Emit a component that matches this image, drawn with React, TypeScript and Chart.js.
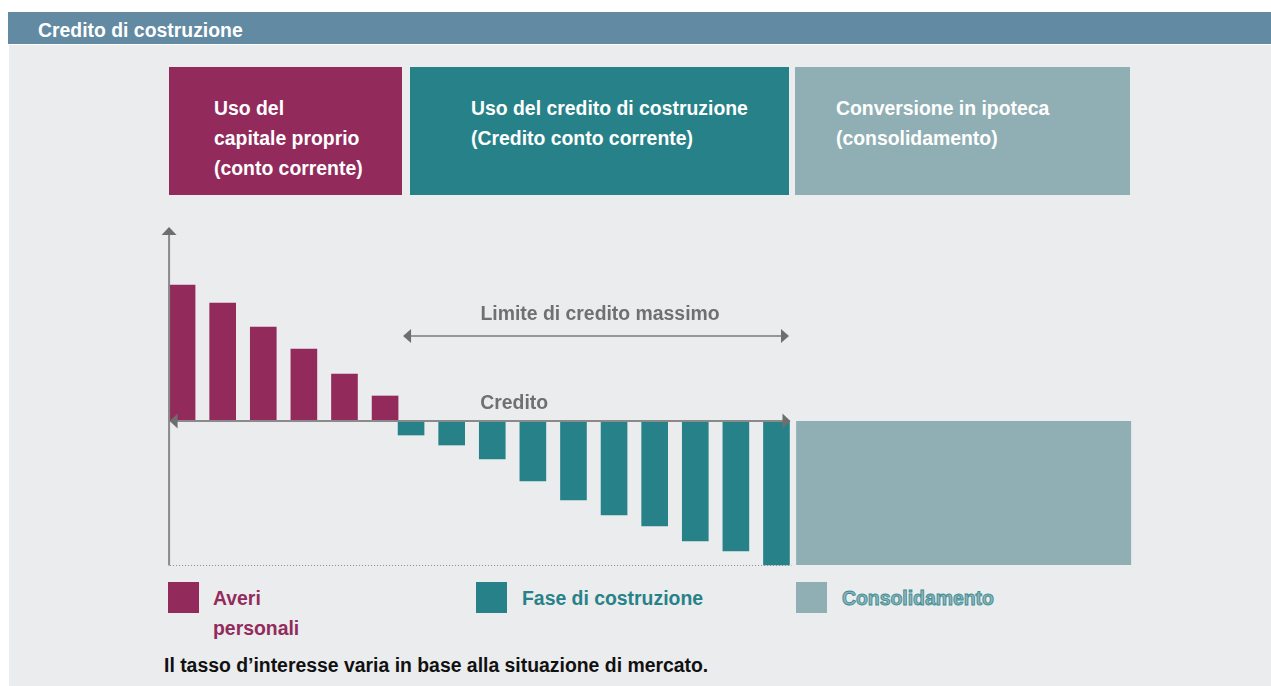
import React, { useEffect, useRef } from 'react';
import { Chart, registerables } from 'chart.js';

Chart.register(...registerables);

// ---------- data ----------
const chartTitle = 'Credito di costruzione';
const phaseTitles = [
  ['Uso del', 'capitale proprio', '(conto corrente)'],
  ['Uso del credito di costruzione', '(Credito conto corrente)'],
  ['Conversione in ipoteca', '(consolidamento)'],
];
const seriesLabels = [['Averi', 'personali'], ['Fase di costruzione'], ['Consolidamento']];
const equityMonths = [0, 1, 2, 3, 4, 5];
const equityValues = [136, 118, 94, 72, 47, 25];
const creditMonths = [5.64, 6.64, 7.64, 8.64, 9.64, 10.64, 11.64, 12.64, 13.64, 14.64];
const creditValues = [-14, -24, -38, -60, -79, -94, -105, -120, -130, -144];
const consolidationMonths = [19.25];
const consolidationValues = [-144];
const limitLabel = 'Limite di credito massimo';
const creditLabel = 'Credito';
const footnote = 'Il tasso d\u2019interesse varia in base alla situazione di mercato.';

// ---------- styles ----------
const MAGENTA = '#922b5c';
const TEAL = '#268288';
const LIGHT = '#8fafb5';
const BAR_BLUE = '#628aa2';
const BG = '#ebecee';
const GRAY_TEXT = '#707070';
const AXIS = '#8a8a8a';
const ARROW = '#6e6e6e';
const FONT = '"Liberation Sans", Arial, Helvetica, sans-serif';
const FS = 19.4;
const BAR_W = 26;

const CANVAS_LEFT = 150;
const CANVAS_TOP = 215;
const CANVAS_W = 1000;
const CANVAS_H = 360;

const schemaPlugin = {
  id: 'schemaAxes',
  afterDatasetsDraw(chart: any) {
    const { ctx, scales } = chart;
    const xs = scales.x;
    const ys = scales.y;
    const y0 = ys.getPixelForValue(0);
    const yBottom = ys.getPixelForValue(consolidationValues[0]);
    const axisX = xs.getPixelForValue(equityMonths[0]) - BAR_W / 2;
    const creditStart = xs.getPixelForValue(creditMonths[0]) - BAR_W / 2;
    const creditEnd = xs.getPixelForValue(creditMonths[creditMonths.length - 1]) + BAR_W / 2;
    const axisTop = chart.chartArea.top + 12;

    ctx.save();
    // dotted baseline
    ctx.strokeStyle = '#8c8c8c';
    ctx.lineWidth = 1;
    ctx.setLineDash([1, 2]);
    ctx.beginPath();
    ctx.moveTo(axisX + 1, yBottom + 0.5);
    ctx.lineTo(creditEnd + 2, yBottom + 0.5);
    ctx.stroke();
    ctx.setLineDash([]);

    // vertical axis
    ctx.strokeStyle = AXIS;
    ctx.lineWidth = 2;
    ctx.beginPath();
    ctx.moveTo(axisX, axisTop + 7);
    ctx.lineTo(axisX, yBottom + 0.5);
    ctx.stroke();
    ctx.fillStyle = ARROW;
    ctx.beginPath();
    ctx.moveTo(axisX, axisTop);
    ctx.lineTo(axisX + 7.5, axisTop + 8);
    ctx.lineTo(axisX - 7.5, axisTop + 8);
    ctx.closePath();
    ctx.fill();

    // zero line with arrows
    ctx.strokeStyle = AXIS;
    ctx.lineWidth = 2;
    ctx.beginPath();
    ctx.moveTo(axisX + 2, y0);
    ctx.lineTo(creditEnd - 4, y0);
    ctx.stroke();
    ctx.fillStyle = ARROW;
    ctx.beginPath();
    ctx.moveTo(axisX + 0.5, y0);
    ctx.lineTo(axisX + 8.5, y0 - 7.5);
    ctx.lineTo(axisX + 8.5, y0 + 7.5);
    ctx.closePath();
    ctx.fill();
    ctx.beginPath();
    ctx.moveTo(creditEnd + 1, y0);
    ctx.lineTo(creditEnd - 7, y0 - 7.5);
    ctx.lineTo(creditEnd - 7, y0 + 7.5);
    ctx.closePath();
    ctx.fill();

    // credit limit double arrow
    const limY = ys.getPixelForValue(85);
    const lx1 = creditStart + 5;
    const lx2 = creditEnd - 0.5;
    ctx.strokeStyle = '#7a7a7a';
    ctx.lineWidth = 1.6;
    ctx.beginPath();
    ctx.moveTo(lx1 + 4, limY);
    ctx.lineTo(lx2 - 4, limY);
    ctx.stroke();
    ctx.fillStyle = ARROW;
    ctx.beginPath();
    ctx.moveTo(lx1, limY);
    ctx.lineTo(lx1 + 8, limY - 7);
    ctx.lineTo(lx1 + 8, limY + 7);
    ctx.closePath();
    ctx.fill();
    ctx.beginPath();
    ctx.moveTo(lx2, limY);
    ctx.lineTo(lx2 - 8, limY - 7);
    ctx.lineTo(lx2 - 8, limY + 7);
    ctx.closePath();
    ctx.fill();

    // labels
    ctx.fillStyle = GRAY_TEXT;
    ctx.font = `bold ${FS}px ${FONT}`;
    ctx.textBaseline = 'alphabetic';
    ctx.textAlign = 'center';
    ctx.fillText(limitLabel, (lx1 + lx2) / 2 + 4, limY - 16);
    ctx.textAlign = 'left';
    ctx.fillText(creditLabel, xs.getPixelForValue(creditMonths[2]) - BAR_W / 2 + 1, y0 - 12);
    ctx.restore();
  },
};

const abs = (left: number, top: number, extra: any = {}) => ({ position: 'absolute', left, top, ...extra });

export default function App() {
  const ref = useRef<HTMLCanvasElement>(null);

  useEffect(() => {
    document.body.style.margin = '0';
    const canvas = ref.current!;
    const chart = new Chart(canvas, {
      type: 'bar',
      data: {
        datasets: [
          {
            label: seriesLabels[0].join(' '),
            data: equityMonths.map((m, i) => ({ x: m, y: equityValues[i] })),
            backgroundColor: MAGENTA,
            grouped: false,
            barPercentage: 1,
            categoryPercentage: 1,
            maxBarThickness: BAR_W,
            borderWidth: 0,
          },
          {
            label: seriesLabels[1].join(' '),
            data: creditMonths.map((m, i) => ({ x: m, y: creditValues[i] })),
            backgroundColor: TEAL,
            grouped: false,
            barPercentage: 1,
            categoryPercentage: 1,
            maxBarThickness: BAR_W,
            borderWidth: 0,
          },
          {
            label: seriesLabels[2].join(' '),
            data: consolidationMonths.map((m, i) => ({ x: m, y: consolidationValues[i] })),
            backgroundColor: LIGHT,
            grouped: false,
            barPercentage: 1,
            categoryPercentage: 20,
            maxBarThickness: 335,
            borderWidth: 0,
          },
        ] as any,
      },
      options: {
        animation: false,
        responsive: false,
        maintainAspectRatio: false,
        layout: { padding: 0 },
        plugins: { legend: { display: false }, tooltip: { enabled: false } },
        scales: {
          x: { type: 'linear', display: false, offset: false, min: -0.79, max: 23.84, grid: { offset: false } },
          y: { type: 'linear', display: false, min: -154, max: 206 },
        },
      } as any,
      plugins: [schemaPlugin],
    });
    return () => chart.destroy();
  }, []);

  const boxes = [
    { left: 169, width: 233, color: MAGENTA, textLeft: 214 },
    { left: 410, width: 379, color: TEAL, textLeft: 471 },
    { left: 795, width: 335, color: LIGHT, textLeft: 836 },
  ];
  const legend = [
    { sq: 168, tx: 213, color: MAGENTA, textStyle: { color: MAGENTA } },
    { sq: 476, tx: 522, color: TEAL, textStyle: { color: TEAL } },
    { sq: 796, tx: 842, color: LIGHT, textStyle: { color: '#93b4ba', WebkitTextStroke: '0.9px #3a8d93' } },
  ];

  return (
    <div
      style={{
        position: 'fixed',
        left: 0,
        top: 0,
        width: 1271,
        height: 686,
        background: '#ffffff',
        overflow: 'hidden',
        fontFamily: FONT,
        fontWeight: 700,
        fontSize: FS,
      } as any}
    >
      <div style={abs(8, 12, { width: 1263, height: 32, background: BAR_BLUE })} />
      <div style={abs(38, 12.5, { color: '#ffffff', lineHeight: '34px', whiteSpace: 'nowrap' })}>{chartTitle}</div>
      <div style={abs(9, 45, { width: 1262, height: 641, background: BG })} />

      {boxes.map((b, i) => (
        <div key={i}>
          <div style={abs(b.left, 67, { width: b.width, height: 128, background: b.color })} />
          <div style={abs(b.textLeft, 93.3, { color: '#ffffff', lineHeight: '30px', whiteSpace: 'nowrap' })}>
            {phaseTitles[i].map((t, j) => (
              <div key={j}>{t}</div>
            ))}
          </div>
        </div>
      ))}

      <canvas
        ref={ref}
        width={CANVAS_W}
        height={CANVAS_H}
        style={abs(CANVAS_LEFT, CANVAS_TOP, { width: CANVAS_W, height: CANVAS_H })}
      />

      {legend.map((l, i) => (
        <div key={i}>
          <div style={abs(l.sq, 582, { width: 31, height: 31, background: l.color })} />
          <div style={abs(l.tx, 584, { lineHeight: '29.5px', whiteSpace: 'nowrap', ...l.textStyle })}>
            {seriesLabels[i].map((t, j) => (
              <div key={j}>{t}</div>
            ))}
          </div>
        </div>
      ))}

      <div style={abs(164, 650.3, { color: '#111111', lineHeight: '30px', whiteSpace: 'nowrap' })}>{footnote}</div>
    </div>
  );
}
